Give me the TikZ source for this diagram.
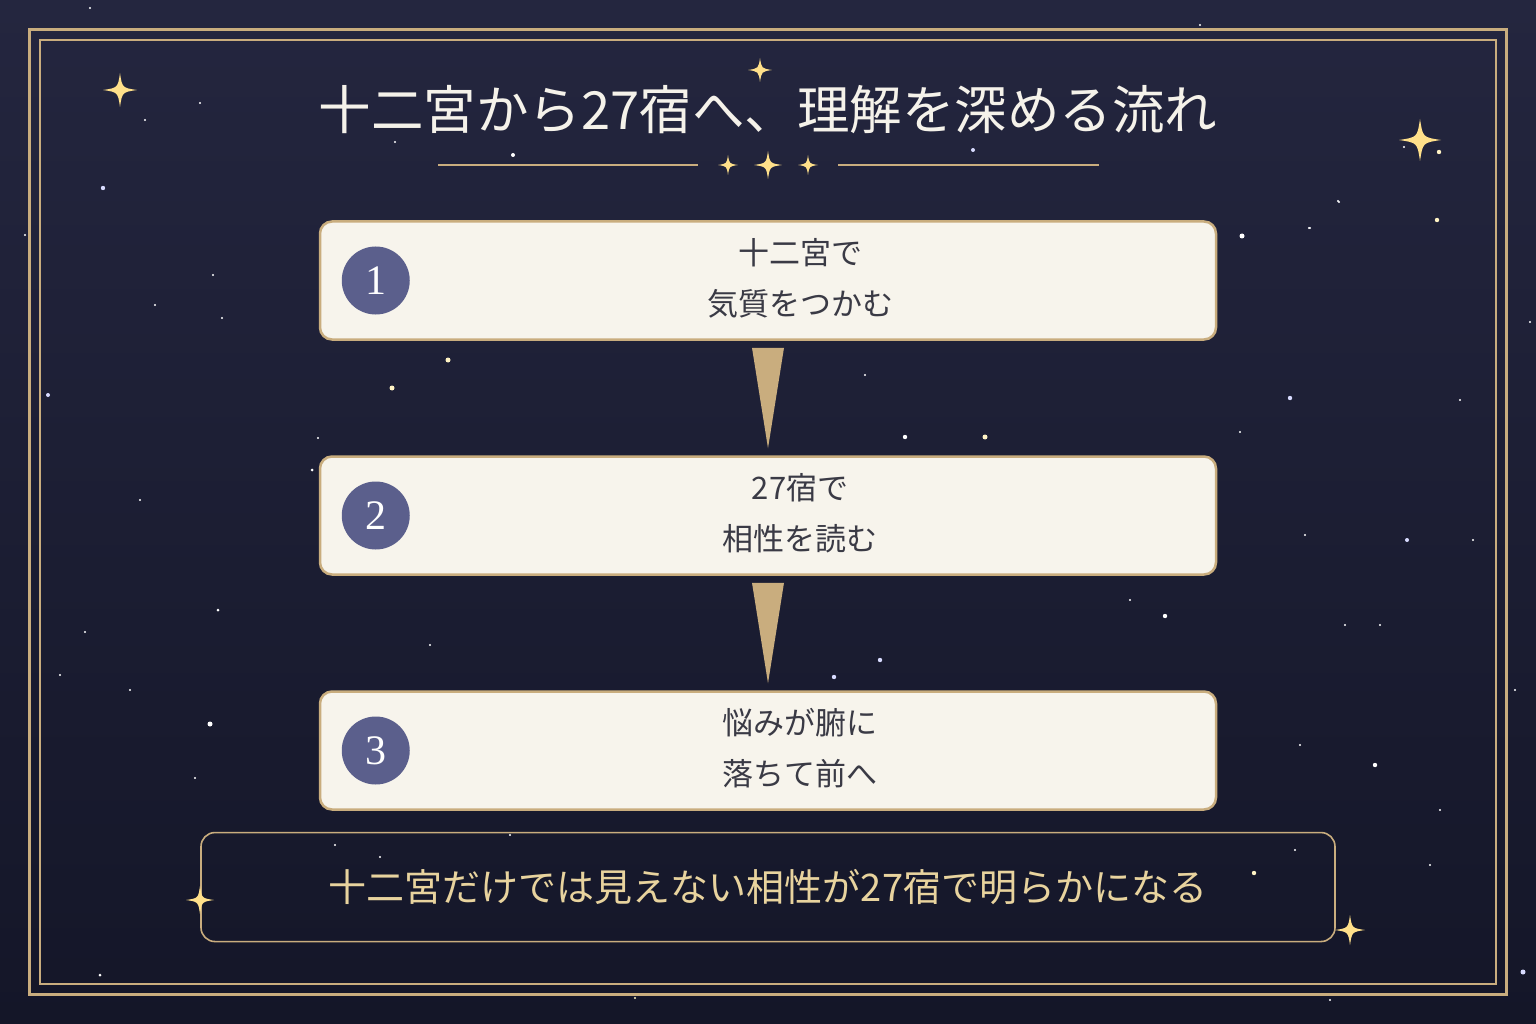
\documentclass[tikz,border=0pt]{standalone}
\usepackage{fontspec}
\newfontfamily\jp{Noto Sans CJK JP}
\newfontfamily\numfont{Liberation Serif}
\usetikzlibrary{positioning,calc}

\definecolor{bgtop}{HTML}{24263F}
\definecolor{bgbot}{HTML}{141628}
\definecolor{goldline}{HTML}{C9AD7E}
\definecolor{boxfill}{HTML}{F7F4EC}
\definecolor{starfill}{HTML}{FFE08A}
\definecolor{numfill}{HTML}{5B5F8C}
\definecolor{darktext}{HTML}{3A3A45}
\definecolor{notetext}{HTML}{E8D39E}
\definecolor{titletext}{HTML}{F5F2EA}
\definecolor{dotpale}{HTML}{FFF3C4}
\definecolor{dotlav}{HTML}{D8DBFF}

\tikzset{
  sparkle/.pic={
    \fill[starfill] (0,-1) .. controls (0.13,-0.13) .. (1,0)
      .. controls (0.13,0.13) .. (0,1)
      .. controls (-0.13,0.13) .. (-1,0)
      .. controls (-0.13,-0.13) .. cycle;
  }
}

\begin{document}
\begin{tikzpicture}[x=1pt,y=-1pt,
  stepbox/.style={draw=goldline,fill=boxfill,line width=2.5pt,rounded corners=12pt,
    minimum width=896pt,minimum height=118pt},
  numdot/.style={circle,fill=numfill,minimum size=68pt,inner sep=0pt,text=white,
    font=\numfont\fontsize{42}{42}\selectfont},
  steptext/.style={align=center,text=darktext,font=\jp\fontsize{31}{51}\selectfont},
  notebox/.style={draw=goldline,line width=1.6pt,rounded corners=14pt,
    minimum width=1134pt,minimum height=109pt},
  arrowfill/.style={fill=goldline}]
  \useasboundingbox (0,0) rectangle (1536,1024);
  \shade[top color=bgtop,bottom color=bgbot] (0,0) rectangle (1536,1024);

  \foreach \x/\y/\r/\c in {103/188/2.2/dotlav, 48/395/2/dotlav, 155/305/1.2/white, 222/318/1.2/white,
    213/275/1.2/white, 448/360/2.5/dotpale, 392/388/2.5/dotpale, 312/470/1.5/white, 140/500/1.2/white,
    218/610/1.5/white, 85/632/1.2/white, 210/724/2.5/white, 130/690/1.2/white, 195/778/1.2/white,
    100/975/1.5/white, 1290/398/2.2/dotlav, 905/437/2.2/white, 985/437/2.5/dotpale, 1242/236/2.5/white,
    1437/220/2.2/dotpale, 1407/540/2/dotlav, 1165/616/2.2/white, 880/660/2.2/dotlav, 834/677/2.2/dotlav,
    1375/765/2.2/white, 1440/810/1.2/white, 1300/745/1.2/white, 1254/873/2.2/dotpale, 1523/972/2.5/dotlav,
    1473/540/1.2/white, 1530/322/1.2/white, 973/150/2/dotlav, 513/155/2/white, 1200/25/1.2/white,
    635/998/1.2/dotpale, 25/235/1.2/white, 1515/690/1.2/white, 1380/625/1.2/white, 1130/600/1.2/white,
    1460/400/1.2/white, 90/8/1.2/white, 145/120/1.2/white, 200/103/1.2/white, 395/142/1.2/white,
    1339/202/1.2/white, 1310/228/1.2/white, 865/375/1.2/white, 318/438/1.2/white, 1240/432/1.2/white,
    1345/625/1.2/white, 1305/535/1.2/white, 60/675/1.2/white, 430/645/1.2/white, 1330/1000/1.2/white,
    335/845/1.2/white, 380/857/1.2/white, 1295/850/1.2/white, 1430/865/1.2/white, 510/835/1.2/white,
    1404/147/1.2/white, 1338/201/1.2/white, 1309/228/1.2/white, 1439/152/2.2/dotpale}
    \fill[\c] (\x,\y) circle (\r);

  \draw[goldline,line width=3pt] (29.5,29.5) rectangle (1506.5,994.5);
  \draw[goldline,line width=1.2pt] (40,40) rectangle (1496,984);

  \node[text=titletext,font=\jp\fontsize{52.5}{60}\selectfont] (title) at (768,110) {十二宮から27宿へ、理解を深める流れ};
  \coordinate (orn) at (768,165);
  \draw[goldline,line width=2pt] ([xshift=-330pt]orn) -- ([xshift=-70pt]orn);
  \draw[goldline,line width=2pt] ([xshift=70pt]orn) -- ([xshift=331pt]orn);
  \pic[scale=10] at ([xshift=-40pt]orn) {sparkle};
  \pic[scale=14] at (orn) {sparkle};
  \pic[scale=10] at ([xshift=40pt]orn) {sparkle};

  \node[stepbox] (step1) at (768,280.5) {};
  \node[stepbox] (step2) [below=114.5pt of step1] {};
  \node[stepbox] (step3) [below=114.5pt of step2] {};
  \node[notebox] (note) [below=21pt of step3] {};

  \foreach \i/\t in {1/{十二宮で\\気質をつかむ}, 2/{27宿で\\相性を読む}, 3/{悩みが腑に\\落ちて前へ}} {
    \node[numdot] (num\i) at ([xshift=57pt]step\i.west) {\i};
    \node[steptext] (text\i) at ([xshift=32pt,yshift=2pt]step\i.center) {\t};
  }

  \node[text=notetext,font=\jp\fontsize{38}{40}\selectfont] (notetxt) at (note.center) {十二宮だけでは見えない相性が27宿で明らかになる};

  \fill[arrowfill] ([xshift=-16pt,yshift=-7pt]step1.south) -- ([xshift=16pt,yshift=-7pt]step1.south) -- ([yshift=7pt]step2.north) -- cycle;
  \fill[arrowfill] ([xshift=-16pt,yshift=-7pt]step2.south) -- ([xshift=16pt,yshift=-7pt]step2.south) -- ([yshift=7pt]step3.north) -- cycle;

  \pic[scale=17] at (120,90) {sparkle};
  \pic[scale=12] at (760,70) {sparkle};
  \pic[scale=21] at (1420,140) {sparkle};
  \pic[scale=14] at (200,900) {sparkle};
  \pic[scale=15] at (1350,930) {sparkle};
\end{tikzpicture}
\end{document}
